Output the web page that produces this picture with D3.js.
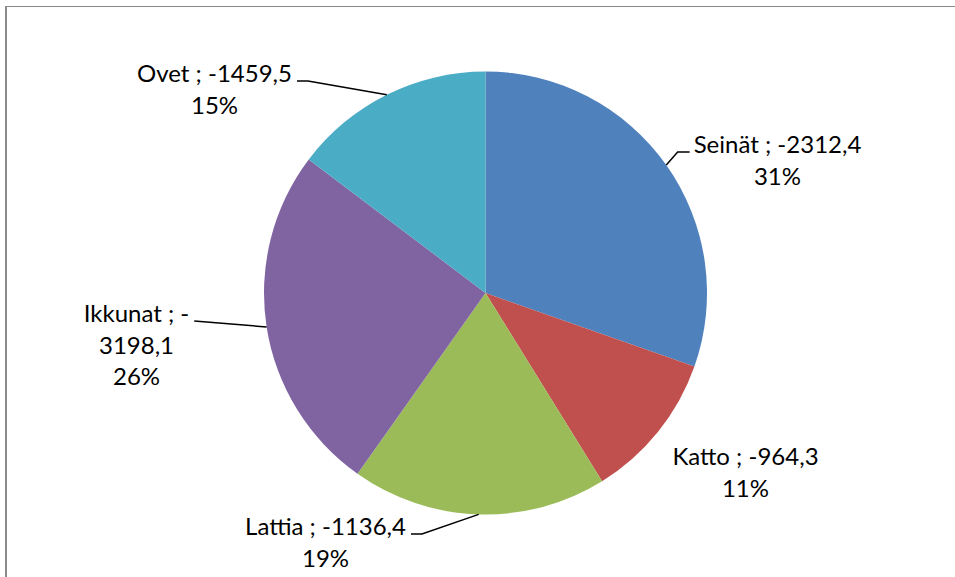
<!DOCTYPE html>
<html>
<head>
<meta charset="utf-8">
<script src="https://cdn.jsdelivr.net/npm/d3@7"></script>
<style>
  html, body { margin: 0; padding: 0; background: #fff; }
  svg { display: block; }
  text { font-family: Lato, "Liberation Sans", sans-serif; fill: #000; }
</style>
</head>
<body>
<svg id="chart" width="955" height="577"></svg>
<script>
// Heat-loss components (W) and their shares of the total
const categories = ["Seinät", "Katto", "Lattia", "Ikkunat", "Ovet"];
const values = [-2312.4, -964.3, -1136.4, -3198.1, -1459.5];
const shares = [31, 11, 19, 26, 15];
const colors = ["#4F81BD", "#C0504D", "#9BBB59", "#8064A2", "#4BACC6"];

const width = 955, height = 577;
const cx = 485.5, cy = 293, radius = 221.5;
const fontSize = 24, lineHeight = 31.5;

// label placement: first-line centre relative to the pie centre, wrap point, leader on/off
const labelLayout = [
  { dx: 292, dy: -140, wrap: null, leader: true },
  { dx: 260, dy: 172, wrap: null, leader: false },
  { dx: -160, dy: 242, wrap: null, leader: true },
  { dx: -349, dy: 29, wrap: 11, leader: true },
  { dx: -271, dy: -211, wrap: null, leader: true }
];

const svg = d3.select("#chart");

// chart-area frame
svg.append("line").attr("x1", 6).attr("x2", 6).attr("y1", 6).attr("y2", height)
  .attr("stroke", "#8a8a8a").attr("stroke-width", 2);
svg.append("line").attr("x1", 5).attr("x2", width).attr("y1", 6.5).attr("y2", 6.5)
  .attr("stroke", "#8a8a8a").attr("stroke-width", 1.2);

const data = categories.map((c, i) => ({ cat: c, value: values[i], share: shares[i], color: colors[i], layout: labelLayout[i] }));

const pie = d3.pie().sort(null).value(d => d.share).startAngle(0).endAngle(2 * Math.PI);
const arcs = pie(data);
const arc = d3.arc().innerRadius(0).outerRadius(radius);

const g = svg.append("g").attr("transform", `translate(${cx},${cy})`);

g.selectAll("path.slice").data(arcs).join("path")
  .attr("class", "slice")
  .attr("d", arc)
  .attr("fill", d => d.data.color);

const fmt = v => d3.format(".1f")(v).replace("−", "-").replace(".", ",");

const labels = g.selectAll("g.label").data(arcs).join("g").attr("class", "label");

labels.each(function (d) {
  const L = d.data.layout;
  const first = `${d.data.cat} ; ${fmt(d.data.value)}`;
  let lines = [first];
  if (L.wrap) lines = [first.slice(0, L.wrap), first.slice(L.wrap)];
  lines.push(`${d.data.share}%`);
  const t = d3.select(this).append("text")
    .attr("text-anchor", "middle")
    .attr("font-size", fontSize);
  lines.forEach((s, i) => {
    t.append("tspan").attr("x", L.dx).attr("y", L.dy + i * lineHeight).text(s);
  });

  if (!L.leader) return;
  // leader from the slice's outer mid-point to the left/right edge of the first line
  const mid = (d.startAngle + d.endAngle) / 2;
  const p0 = [Math.sin(mid) * radius, -Math.cos(mid) * radius];
  const w = t.select("tspan").node().getComputedTextLength();
  const rightSide = L.dx > 0;
  const ex = rightSide ? L.dx - w / 2 - 4 : L.dx + w / 2 + 5;
  const ey = L.dy - 1;
  let pts;
  if (Math.abs(ey - p0[1]) < 8) {
    pts = [p0, [ex, ey]];
  } else {
    const elbow = [ex + (rightSide ? -12 : 11), ey];
    pts = [p0, elbow, [ex, ey]];
  }
  d3.select(this).insert("path", "text")
    .attr("d", d3.line()(pts))
    .attr("fill", "none")
    .attr("stroke", "#000")
    .attr("stroke-width", 1.5);
});
</script>
</body>
</html>
